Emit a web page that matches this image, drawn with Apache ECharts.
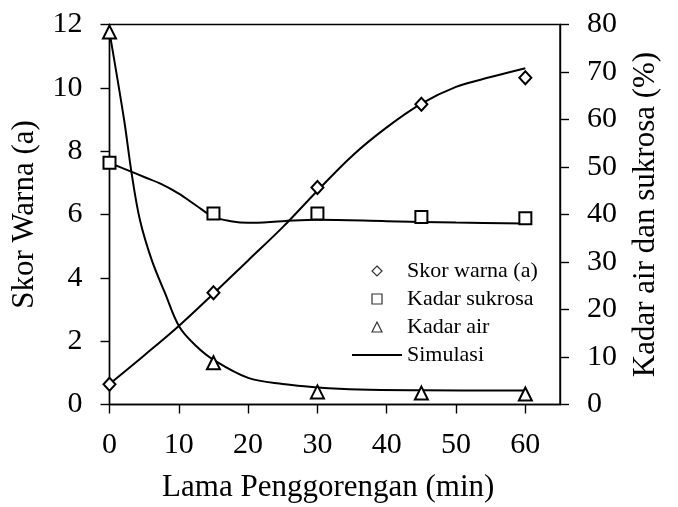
<!DOCTYPE html>
<html><head><meta charset="utf-8">
<script src="https://cdn.jsdelivr.net/npm/echarts@6/dist/echarts.min.js"></script>
<style>html,body{margin:0;padding:0;background:#fff}#c{width:678px;height:507px}</style>
</head><body><div id="c"></div>
<script>
// Observed data (min vs values)
const timePoints = [0, 15, 30, 45, 60];
const skorWarna = [0.64, 3.53, 6.85, 9.48, 10.32];          // left axis
const kadarSukrosa = [50.9, 40.2, 40.2, 39.5, 39.2];        // right axis (%)
const kadarAir = [78.4, 8.8, 2.65, 2.4, 2.2];               // right axis (%)

// Simulation curves
const simSkorX = [0, 5, 10, 15, 20, 25, 30, 35, 40, 45, 50, 55, 60];
const simSkorY = [0.65, 1.55, 2.48, 3.5, 4.55, 5.6, 6.75, 7.85, 8.75, 9.5, 10.03, 10.34, 10.62];
const simSukrosaX = [0, 2.5, 5, 7.5, 10, 12.5, 15, 17.5, 20, 25, 30, 40, 50, 60];
const simSukrosaY = [50.9, 49.4, 47.9, 46.4, 44.4, 41.9, 39.5, 38.6, 38.25, 38.6, 38.9, 38.6, 38.3, 38.1];
const simAirX = [0, 2.1, 3.2, 4.4, 6.1, 8, 10.1, 12.5, 15, 20, 25, 30, 36, 45, 60];
const simAirY = [78.4, 60, 48.6, 38.8, 30.4, 23.5, 16.3, 12.3, 9.4, 5.6, 4.3, 3.6, 3.15, 3.0, 2.95];

const xTicks = [0, 10, 20, 30, 40, 50, 60];

const FONT = 'Liberation Serif';
const pair = (xs, ys) => xs.map((x, i) => [x, ys[i]]);

const chart = echarts.init(document.getElementById('c'), null, {renderer: 'canvas'});
const axisLine = {show: true, lineStyle: {color: '#000', width: 1.4}};
const axisTick = {show: true, inside: false, length: 9, lineStyle: {color: '#000', width: 1.4}};
const simLine = {color: '#000', width: 2};
const markerStyle = {color: '#fff', borderColor: '#000', borderWidth: 2, opacity: 1};
const legendMarker = {color: '#fff', borderColor: '#333', borderWidth: 1.2, opacity: 1};

chart.setOption({
  animation: false,
  backgroundColor: '#fff',
  grid: {left: 109.5, right: 118, top: 24.5, bottom: 102.5, show: true, borderColor: '#000', borderWidth: 1.4, outerBoundsMode: 'none'},
  legend: {
    orient: 'vertical', left: 347, top: 255,
    itemWidth: 50, itemHeight: 10, itemGap: 6,
    symbolKeepAspect: true,
    textStyle: {fontFamily: FONT, fontSize: 22, color: '#000'},
    data: [
      {name: 'Skor warna (a)', icon: 'path://M5,0L10,5L5,10L0,5Z', itemStyle: legendMarker},
      {name: 'Kadar sukrosa', icon: 'path://M0,0L10,0L10,10L0,10Z', itemStyle: legendMarker},
      {name: 'Kadar air', icon: 'path://M5,0L10,10L0,10Z', itemStyle: legendMarker},
      {name: 'Simulasi', icon: 'path://M0,0L50,0L50,2L0,2Z', itemStyle: {color: '#000', borderWidth: 0}}
    ]
  },
  xAxis: {
    type: 'value', min: 0, max: 65, interval: 10,
    name: 'Lama Penggorengan (min)', nameLocation: 'middle', nameGap: 68,
    nameTextStyle: {fontFamily: FONT, fontSize: 31, color: '#000', padding: [0, 13, 0, 0]},
    axisLine: axisLine,
    axisTick: Object.assign({customValues: xTicks}, axisTick),
    axisLabel: {customValues: xTicks, margin: 26, fontFamily: FONT, fontSize: 30, color: '#000'},
    splitLine: {show: false}
  },
  yAxis: [
    {
      type: 'value', min: 0, max: 12, interval: 2, position: 'left',
      name: 'Skor Warna (a)', nameLocation: 'middle', nameGap: 69, nameRotate: 90,
      nameTextStyle: {fontFamily: FONT, fontSize: 31, color: '#000'},
      axisLine: axisLine, axisTick: axisTick,
      axisLabel: {margin: 27, fontFamily: FONT, fontSize: 30, color: '#000'},
      splitLine: {show: false}
    },
    {
      type: 'value', min: 0, max: 80, interval: 10, position: 'right',
      name: 'Kadar air dan sukrosa (%)', nameLocation: 'middle', nameGap: 70, nameRotate: 90,
      nameTextStyle: {fontFamily: FONT, fontSize: 31, color: '#000'},
      axisLine: axisLine, axisTick: axisTick,
      axisLabel: {margin: 27, fontFamily: FONT, fontSize: 30, color: '#000'},
      splitLine: {show: false}
    }
  ],
  series: [
    {name: 'Simulasi', type: 'line', yAxisIndex: 0, data: pair(simSkorX, simSkorY), symbol: 'none', smooth: 0.35, lineStyle: simLine, itemStyle: {color: '#000'}, z: 2},
    {name: 'Simulasi', type: 'line', yAxisIndex: 1, data: pair(simSukrosaX, simSukrosaY), symbol: 'none', smooth: 0.35, lineStyle: simLine, itemStyle: {color: '#000'}, z: 2},
    {name: 'Simulasi', type: 'line', yAxisIndex: 1, data: pair(simAirX, simAirY), symbol: 'none', smooth: 0.35, lineStyle: simLine, itemStyle: {color: '#000'}, z: 2},
    {name: 'Skor warna (a)', type: 'scatter', yAxisIndex: 0, data: pair(timePoints, skorWarna), symbol: 'diamond', symbolSize: [12, 13], itemStyle: markerStyle, z: 5},
    {name: 'Kadar sukrosa', type: 'scatter', yAxisIndex: 1, data: pair(timePoints, kadarSukrosa), symbol: 'rect', symbolSize: 12, itemStyle: markerStyle, z: 5},
    {name: 'Kadar air', type: 'scatter', yAxisIndex: 1, data: pair(timePoints, kadarAir), symbol: 'triangle', symbolSize: 13, itemStyle: markerStyle, z: 5}
  ]
});
</script></body></html>
